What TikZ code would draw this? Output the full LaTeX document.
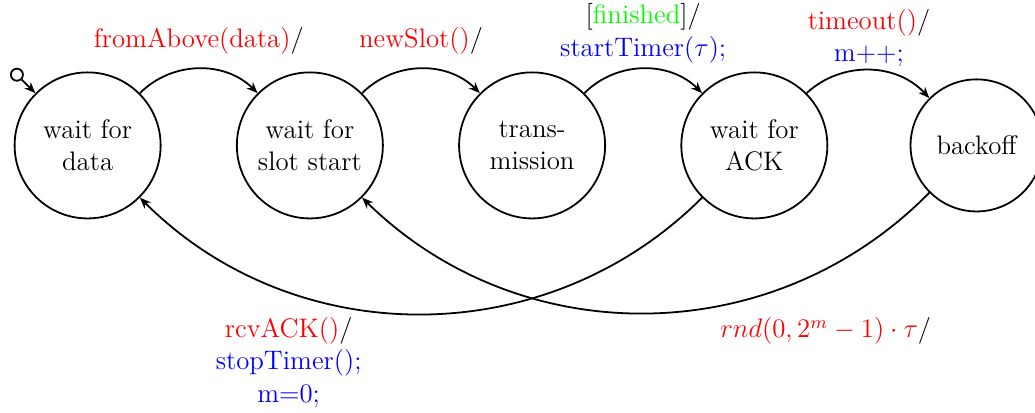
\documentclass[tikz,border=0pt]{standalone}
\usepackage{tikz}
\usepackage{xcolor}
\usetikzlibrary{positioning, arrows.meta, calc}

\begin{document}
\begin{tikzpicture}[
    node distance=3.5cm, on grid,
    state/.style={circle, draw, line width=0.8pt, minimum size=2.3cm,
                  inner sep=1pt, align=center, font=\fontsize{12}{14.5}\selectfont},
    initdot/.style={circle, draw, line width=0.8pt, minimum size=0.19cm, inner sep=0pt},
    trans/.style={-{Stealth[length=5pt, width=4pt]}, line width=0.8pt},
    act/.style={font=\fontsize{12}{14.5}\selectfont, align=center, minimum height=0.93cm}
  ]
    \useasboundingbox (0,0) rectangle (16.30,6.49);

    \node[state] (data) at (1.38,4.2) {wait for\\data};
    \node[state, right=of data] (slot) {wait for\\slot start};
    \node[state, right=of slot] (tx) {trans-\\mission};
    \node[state, right=of tx] (ack) {wait for\\ACK};
    \node[state, minimum size=2.08cm, right=of ack] (backoff) {backoff};
    \node[initdot] (init) at ($(data)+(135:1.575)$) {};

    \draw[trans] (init) -- (data);
    \draw[trans] (data.45) to[bend left=45]
        node[act, above=-0.04cm] {\textcolor{red}{fromAbove(data)}/} (slot.135);
    \draw[trans] (slot.45) to[bend left=45]
        node[act, above=-0.04cm] {\textcolor{red}{newSlot()}/} (tx.135);
    \draw[trans] (tx.45) to[bend left=45]
        node[act, above=-0.04cm] {{[}\textcolor{green}{finished}]/\\\textcolor{blue}{startTimer($\tau$);}} (ack.135);
    \draw[trans] (ack.45) to[bend left=45]
        node[act, above=-0.08cm] {\textcolor{red}{timeout()}/\\\textcolor{blue}{m++;}} (backoff.135);

    % way back down below the row
    \draw[trans] (ack.225) to[bend left=45]
        node[act, pos=0.72, below=0.28cm] {\textcolor{red}{rcvACK()}/\\\textcolor{blue}{stopTimer();}\\\textcolor{blue}{m=0;}} (data.-45);
    \draw[trans] (backoff.225) to[bend left=45]
        node[act, pos=0.2, below=0.5cm] {\textcolor{red}{$rnd(0,2^m-1)\cdot\tau$}/} (slot.-45);
\end{tikzpicture}
\end{document}
